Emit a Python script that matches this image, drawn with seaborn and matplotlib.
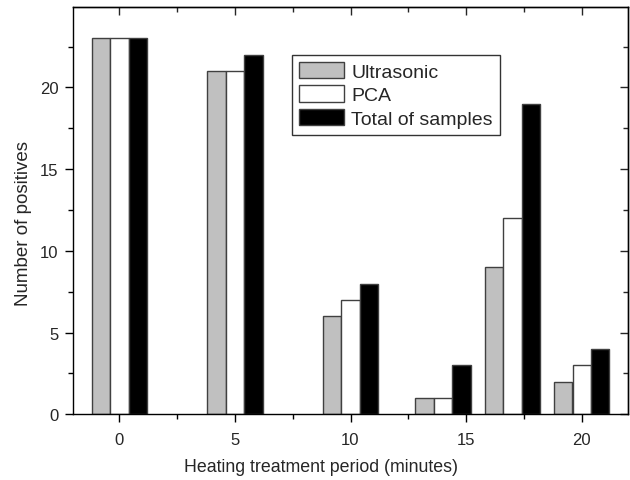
import matplotlib
matplotlib.use("Agg")
import matplotlib.pyplot as plt
from matplotlib.ticker import MultipleLocator
from matplotlib.patches import Patch
import seaborn as sns
import pandas as pd

# Data
periods = [0, 5, 10, 14, 17, 20]
ultrasonic = [23, 21, 6, 1, 9, 2]
pca = [23, 21, 7, 1, 12, 3]
total = [23, 22, 8, 3, 19, 4]
series_names = ["Ultrasonic", "PCA", "Total of samples"]
colors = ["#c0c0c0", "#ffffff", "#000000"]

df = pd.DataFrame({
    "period": periods * 3,
    "value": ultrasonic + pca + total,
    "series": [series_names[0]] * len(periods) + [series_names[1]] * len(periods) + [series_names[2]] * len(periods),
})

sns.set_style("ticks")
plt.rcParams["font.family"] = ["Liberation Sans", "DejaVu Sans"]

fig = plt.figure(figsize=(6.3, 4.81), dpi=100)
ax = fig.add_axes([73 / 630, 1 - 415.3 / 481, (628 - 73) / 630, (415.3 - 8.3) / 481])

sns.barplot(data=df, x="period", y="value", hue="series", hue_order=series_names,
            palette=colors, native_scale=True, width=0.8, gap=0, dodge=True,
            edgecolor="#404040", linewidth=1.0, saturation=1, legend=False, ax=ax, errorbar=None)

ax.set_xlim(-2, 22)
ax.set_ylim(0, 24.9)
ax.xaxis.set_major_locator(MultipleLocator(5))
ax.xaxis.set_minor_locator(MultipleLocator(2.5))
ax.yaxis.set_major_locator(MultipleLocator(5))
ax.yaxis.set_minor_locator(MultipleLocator(2.5))

for s in ax.spines.values():
    s.set_visible(True)
    s.set_linewidth(1.0)
    s.set_color("black")

ax.tick_params(which="major", direction="out", length=6, width=1, labelsize=12, color="black")
ax.tick_params(which="minor", direction="out", length=3.5, width=1, color="black")
ax.tick_params(axis="x", which="major", pad=7)
ax.tick_params(axis="y", which="major", pad=4.5)

secx = ax.secondary_xaxis("top")
secx.xaxis.set_major_locator(MultipleLocator(5))
secx.xaxis.set_minor_locator(MultipleLocator(2.5))
secx.tick_params(which="major", direction="in", length=6, width=1, labeltop=False)
secx.tick_params(which="minor", direction="in", length=3.5, width=1)
secx.spines["top"].set_linewidth(1.0)

secy = ax.secondary_yaxis("right")
secy.yaxis.set_major_locator(MultipleLocator(5))
secy.yaxis.set_minor_locator(MultipleLocator(2.5))
secy.tick_params(which="major", direction="in", length=6, width=1, labelright=False)
secy.tick_params(which="minor", direction="in", length=3.5, width=1)
secy.spines["right"].set_linewidth(1.0)

ax.set_xlabel("Heating treatment period (minutes)", fontsize=12.8)
ax.set_ylabel("Number of positives", fontsize=13.5)
ax.xaxis.set_label_coords((321 - 73) / 555, (415.3 - 459) / 407)
ax.yaxis.set_label_coords((32 - 73) / 555, (415.3 - 224) / 407)

handles = [Patch(facecolor=c, edgecolor="#404040", linewidth=1.0, label=n) for c, n in zip(colors, series_names)]
leg = ax.legend(handles=handles, loc="upper left", bbox_to_anchor=((292 - 73) / 555, (415.3 - 56) / 407),
                fontsize=14, frameon=True, fancybox=False, handlelength=2.3, handleheight=0.9,
                handletextpad=0.4, labelspacing=0.25, borderpad=0.35, borderaxespad=0)
leg.get_frame().set_edgecolor("black")
leg.get_frame().set_linewidth(1.0)

fig.savefig("out.png", dpi=100)
